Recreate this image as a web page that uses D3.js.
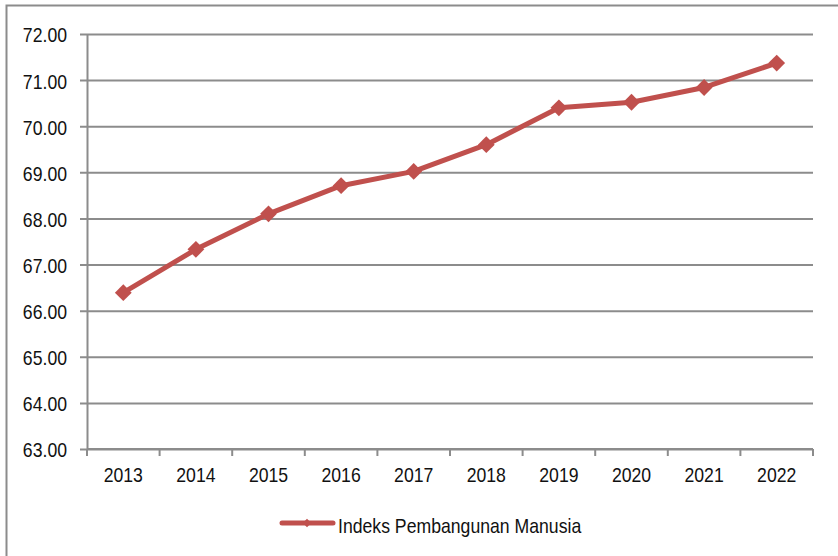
<!DOCTYPE html>
<html>
<head>
<meta charset="utf-8">
<script src="https://cdn.jsdelivr.net/npm/d3@7"></script>
<style>
  body { margin: 0; background: #fff; }
  text { font-family: "Liberation Sans", Arial, sans-serif; fill: #111; }
</style>
</head>
<body>
<svg id="chart"></svg>
<script>
// data
const years = ['2013', '2014', '2015', '2016', '2017', '2018', '2019', '2020', '2021', '2022'];
const ipm = [66.39, 67.33, 68.10, 68.71, 69.02, 69.60, 70.40, 70.52, 70.84, 71.37];
const yTicks = [63, 64, 65, 66, 67, 68, 69, 70, 71, 72];
const seriesName = 'Indeks Pembangunan Manusia';

const width = 838;
const height = 556;
const margin = { left: 87, right: 25, top: 34, bottom: 107 };
const color = '#C0504D';
const gridColor = '#8c8c8c';
const fontSize = 21;
const narrow = 0.84; // mimic a condensed face

// squeeze text horizontally
const condense = sel => sel.each(function () {
  const w = this.getComputedTextLength()
  d3.select(this).attr('textLength', w * narrow).attr('lengthAdjust', 'spacingAndGlyphs')
})

const svg = d3.select('svg#chart').attr('width', width).attr('height', height)

// outer frame
svg.append('rect')
  .attr('x', 6.5).attr('y', 5.5)
  .attr('width', width).attr('height', height)
  .attr('fill', 'none').attr('stroke', gridColor).attr('stroke-width', 2)

const x = d3.scaleBand().domain(years).range([margin.left, width - margin.right])
const y = d3.scaleLinear().domain([63, 72]).range([height - margin.bottom, margin.top])

// gridlines + y ticks
svg.append('g')
  .attr('transform', 'translate(' + margin.left + ',0)')
  .call(d3.axisLeft(y).tickValues(yTicks).tickFormat(d3.format('.2f'))
    .tickSizeInner(-(width - margin.right - margin.left)).tickSizeOuter(0).tickPadding(20))
  .call(g => g.select('.domain').attr('stroke', gridColor).attr('stroke-width', 2))
  .call(g => g.selectAll('.tick line').attr('stroke', gridColor).attr('stroke-width', 2)
    .attr('x1', -7))
  .call(g => g.selectAll('.tick text').attr('font-size', fontSize).attr('fill', '#111')
    .attr('dy', '0.38em').call(condense))

// x axis
const xAxis = svg.append('g')
  .attr('transform', 'translate(0,' + y(63) + ')')
xAxis.append('line')
  .attr('x1', margin.left).attr('x2', width - margin.right)
  .attr('stroke', gridColor).attr('stroke-width', 2)
xAxis.selectAll('line.tk')
  .data(years.concat(['end']))
  .enter().append('line').attr('class', 'tk')
  .attr('x1', (d, i) => i < years.length ? x(d) : x(years[years.length - 1]) + x.bandwidth())
  .attr('x2', (d, i) => i < years.length ? x(d) : x(years[years.length - 1]) + x.bandwidth())
  .attr('y1', 0).attr('y2', 7)
  .attr('stroke', gridColor).attr('stroke-width', 2)
xAxis.selectAll('text')
  .data(years)
  .enter().append('text')
  .attr('x', d => x(d) + x.bandwidth() / 2)
  .attr('y', 33)
  .attr('text-anchor', 'middle')
  .attr('font-size', fontSize)
  .text(d => d)
  .call(condense)

// line
const pts = years.map((yr, i) => [x(yr) + x.bandwidth() / 2, y(ipm[i])])
svg.append('path')
  .attr('d', d3.line()(pts))
  .attr('fill', 'none').attr('stroke', color).attr('stroke-width', 5)
  .attr('stroke-linejoin', 'round')

const diamond = d3.symbol().type(d3.symbolDiamond2).size(180)
svg.append('g').selectAll('path')
  .data(pts)
  .enter().append('path')
  .attr('d', diamond)
  .attr('transform', d => 'translate(' + d[0] + ',' + d[1] + ')')
  .attr('fill', color)

// legend
const lg = svg.append('g').attr('transform', 'translate(280,523)')
lg.append('line').attr('x1', 2).attr('x2', 53)
  .attr('stroke', color).attr('stroke-width', 5).attr('stroke-linecap', 'round')
lg.append('path').attr('d', d3.symbol().type(d3.symbolDiamond2).size(45))
  .attr('transform', 'translate(27,0)').attr('fill', color)
lg.append('text').attr('x', 58).attr('y', 10).attr('font-size', fontSize).text(seriesName)
  .call(condense)
</script>
</body>
</html>
